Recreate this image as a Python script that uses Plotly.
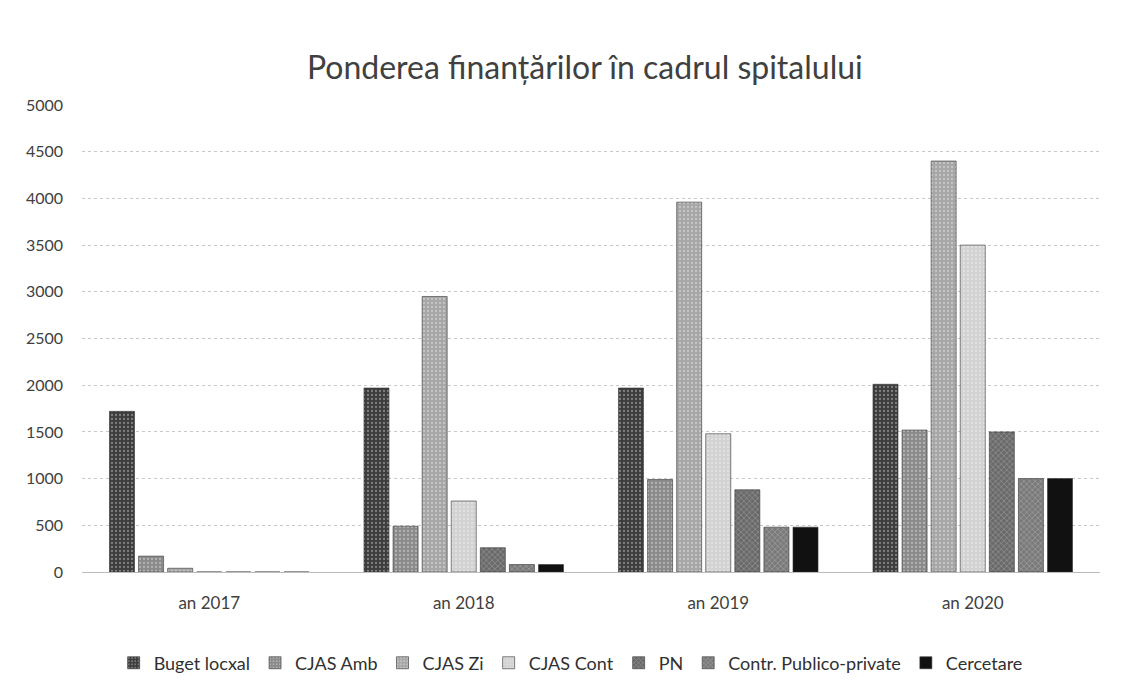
import plotly.graph_objects as go

categories = ["an 2017", "an 2018", "an 2019", "an 2020"]
series_names = ["Buget locxal", "CJAS Amb", "CJAS Zi", "CJAS Cont", "PN",
                "Contr. Publico-private", "Cercetare"]
buget_local = [1720, 1970, 1970, 2010]
cjas_amb = [170, 490, 990, 1520]
cjas_zi = [40, 2950, 3960, 4400]
cjas_cont = [0, 760, 1480, 3500]
pn = [0, 260, 880, 1500]
contr_pp = [0, 80, 480, 1000]
cercetare = [0, 80, 480, 1000]

values = [buget_local, cjas_amb, cjas_zi, cjas_cont, pn, contr_pp, cercetare]
colors = ["#3c3c3c", "#8a8a8a", "#a6a6a6", "#d2d2d2", "#6a6a6a", "#7a7a7a", "#111111"]
patterns = [".", ".", ".", ".", "x", "x", ""]

fig = go.Figure()
for name, vals, col, pat in zip(series_names, values, colors, patterns):
    fig.add_trace(go.Bar(
        name=name, x=categories, y=vals,
        marker=dict(color=col, line=dict(color="#333333", width=0.6),
                    pattern=dict(shape=pat, fgcolor="#ffffff", fgopacity=0.35,
                                 size=4, solidity=0.25)),
    ))

fig.update_layout(
    width=1131, height=699,
    paper_bgcolor="white", plot_bgcolor="white",
    font=dict(family="Lato, Open Sans, sans-serif", color="#404040"),
    title=dict(text="Ponderea finanțărilor în cadrul spitalului",
               x=0.51, xanchor="center", y=0.914, yanchor="middle",
               font=dict(size=32, color="#404040")),
    barmode="group", bargap=0.2, bargroupgap=0.14,
    margin=dict(l=74, r=39, t=97, b=135),
    legend=dict(orientation="h", x=0.48, xanchor="center", y=-0.195, yanchor="middle",
                font=dict(size=18, color="#303030"), traceorder="normal",
                itemwidth=30),
    showlegend=True,
)
fig.update_xaxes(showgrid=False, showline=True, linecolor="#bbbbbb", linewidth=1,
                 tickfont=dict(size=17, color="#404040"), ticks="",
                 ticklabelstandoff=16)
fig.update_yaxes(range=[0, 5000], dtick=500, showgrid=True, gridcolor="#c8c8c8",
                 griddash="dot", zeroline=False, tickfont=dict(size=16, color="#404040"),
                 ticks="", ticklabelstandoff=18)

fig.write_html("out.html")
